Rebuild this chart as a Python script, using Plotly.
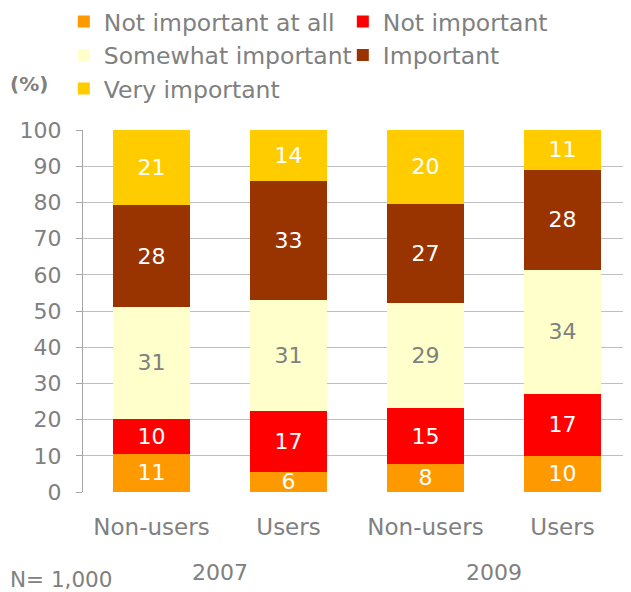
import plotly.graph_objects as go

# categories and series (percent)
groups = ["Non-users", "Users", "Non-users", "Users"]
years = ["2007", "2009"]
not_at_all = [10.6, 5.6, 7.8, 10.0]
not_important = [9.6, 16.8, 15.3, 17.1]
somewhat = [30.9, 30.6, 29.1, 34.2]
important = [28.1, 32.9, 27.4, 27.7]
very = [20.8, 14.1, 20.4, 11.0]

font = "DejaVu Sans"
grey = "#808080"

series = [
    ("Not important at all", not_at_all, "#FF9900", "white"),
    ("Not important", not_important, "#FF0000", "white"),
    ("Somewhat important", somewhat, "#FFFFCC", grey),
    ("Important", important, "#993300", "white"),
    ("Very important", very, "#FFCC00", "white"),
]

xpos = list(range(len(groups)))

fig = go.Figure()
for name, vals, color, tcolor in series:
    fig.add_trace(go.Bar(
        x=xpos, y=vals, name=name,
        marker=dict(color=color, line=dict(width=0)),
        texttemplate="%{y:.0f}", textposition="inside",
        insidetextanchor="middle", textangle=0, constraintext="none",
        textfont=dict(family=font, size=22, color=tcolor),
        hoverinfo="skip",
    ))

# page body has an 8px margin, so the figure is 8px smaller and shifted
fig.update_layout(
    width=623, height=584,
    barmode="stack", bargap=0.445,
    plot_bgcolor="white", paper_bgcolor="white",
    margin=dict(l=75, r=0, t=122, b=100, autoexpand=False),
    font=dict(family=font, size=22, color=grey),
    legend=dict(
        orientation="h", traceorder="normal",
        x=-0.035, xanchor="left", y=1.36, yanchor="top",
        entrywidth=234, entrywidthmode="pixels",
        bgcolor="rgba(0,0,0,0)",
        font=dict(family=font, size=23.5, color=grey),
        itemclick=False,
    ),
)

fig.update_xaxes(
    range=[-0.5, 3.5], tickvals=xpos, ticktext=groups,
    showgrid=False, showline=False, zeroline=False,
    ticks="", ticklabelstandoff=19,
    tickfont=dict(family=font, size=23, color=grey),
)
fig.update_yaxes(
    range=[0, 100], dtick=10,
    showgrid=True, gridcolor="#BFBFBF", gridwidth=1,
    showline=True, linecolor="#A6A6A6", linewidth=1,
    zeroline=False,
    ticks="outside", ticklen=6, tickcolor="#A6A6A6",
    ticklabelstandoff=10,
    tickfont=dict(family=font, size=22, color=grey),
)

# year labels under each pair
for i, yr in enumerate(years):
    fig.add_annotation(x=2 * i + 0.5, xref="x", y=-0.223, yref="paper",
                       text=yr, showarrow=False,
                       xanchor="center", yanchor="middle",
                       font=dict(family=font, size=22, color=grey))

fig.add_annotation(x=-0.098, xref="paper", y=1.127, yref="paper",
                   text="<b>(%)</b>", showarrow=False,
                   xanchor="center", yanchor="middle",
                   font=dict(family=font, size=20, color=grey))
fig.add_annotation(x=-0.1369, xref="paper", y=-0.243, yref="paper",
                   text="N= 1,000", showarrow=False,
                   xanchor="left", yanchor="middle",
                   font=dict(family=font, size=21.5, color=grey))

fig.write_html("out.html")
